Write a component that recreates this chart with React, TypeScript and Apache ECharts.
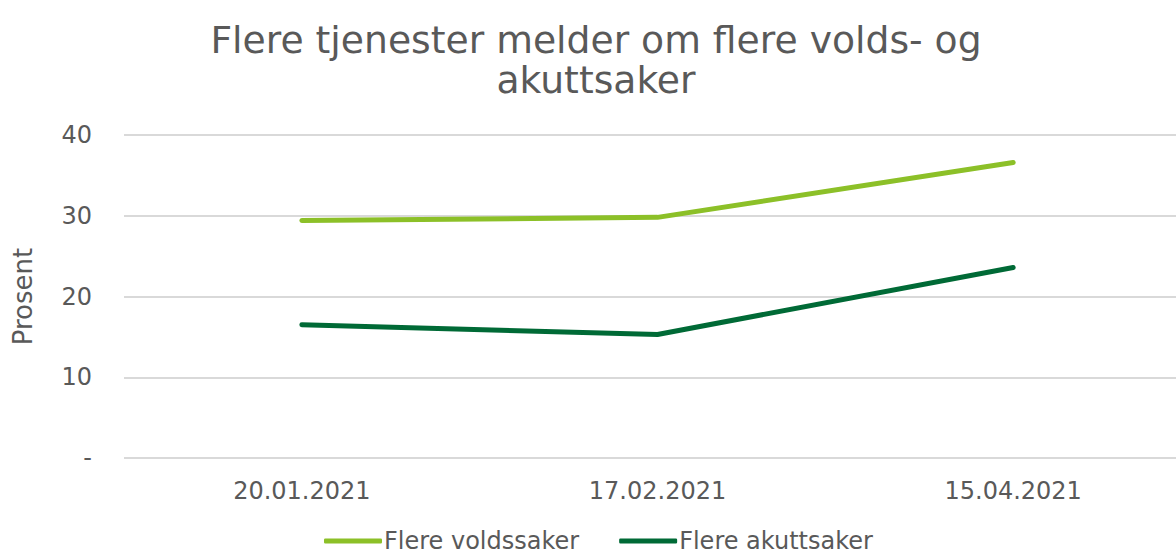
import React, { useEffect, useRef } from "react";
import * as echarts from "echarts";

const categories = ["20.01.2021", "17.02.2021", "15.04.2021"];
const voldssaker = [29.4, 29.8, 36.6];
const akuttsaker = [16.5, 15.3, 23.6];
const seriesNames = ["Flere voldssaker", "Flere akuttsaker"];
const titleText = "Flere tjenester melder om flere volds- og\nakuttsaker";

const FONT = "DejaVu Sans";
const TEXT = "#595959";

export default function App() {
  const ref = useRef<HTMLDivElement>(null);
  useEffect(() => {
    const chart = echarts.init(ref.current!, null, { renderer: "svg" });
    chart.setOption({
      animation: false,
      textStyle: { fontFamily: FONT, color: TEXT },
      title: {
        text: titleText,
        left: 596,
        textAlign: "center",
        top: 15,
        padding: [5, 0, 5, 0],
        textStyle: { fontFamily: FONT, fontSize: 37.7, fontWeight: "normal", color: TEXT, lineHeight: 40 },
      },
      legend: {
        top: 529,
        left: 324,
        padding: 0,
        itemWidth: 58,
        itemHeight: 5,
        itemGap: 40,
        icon: "roundRect",
        textStyle: { fontFamily: FONT, fontSize: 24, lineHeight: 24, color: TEXT, padding: [0, 0, 0, -3] },
        data: seriesNames,
      },
      grid: {
        left: 124,
        right: -15,
        top: 135,
        bottom: 95,
        containLabel: false,
        outerBoundsMode: "none",
      },
      xAxis: {
        type: "category",
        data: categories,
        boundaryGap: true,
        axisLine: { show: false },
        axisTick: { show: false },
        axisLabel: { fontFamily: FONT, fontSize: 24, color: TEXT, margin: 21 },
      },
      yAxis: {
        type: "value",
        min: 0,
        max: 40,
        interval: 10,
        name: "Prosent",
        nameLocation: "middle",
        nameGap: 88,
        nameTextStyle: { fontFamily: FONT, fontSize: 26, color: TEXT },
        axisLine: { show: false },
        axisTick: { show: false },
        axisLabel: {
          fontFamily: FONT,
          fontSize: 24,
          color: TEXT,
          margin: 32,
          formatter: (v: number) => (v === 0 ? "-" : String(v)),
        },
        splitLine: { lineStyle: { color: "#d9d9d9", width: 2 } },
      },
      series: [
        {
          name: seriesNames[0],
          type: "line",
          data: voldssaker,
          symbol: "none",
          itemStyle: { color: "#8cc028" },
          lineStyle: { color: "#8cc028", width: 5, cap: "round", join: "round" },
        },
        {
          name: seriesNames[1],
          type: "line",
          data: akuttsaker,
          symbol: "none",
          itemStyle: { color: "#006a36" },
          lineStyle: { color: "#006a36", width: 5, cap: "round", join: "round" },
        },
      ],
    });
    return () => chart.dispose();
  }, []);
  return (
    <div
      ref={ref}
      style={{ position: "absolute", left: 0, top: 0, width: 1176, height: 553 }}
    />
  );
}
